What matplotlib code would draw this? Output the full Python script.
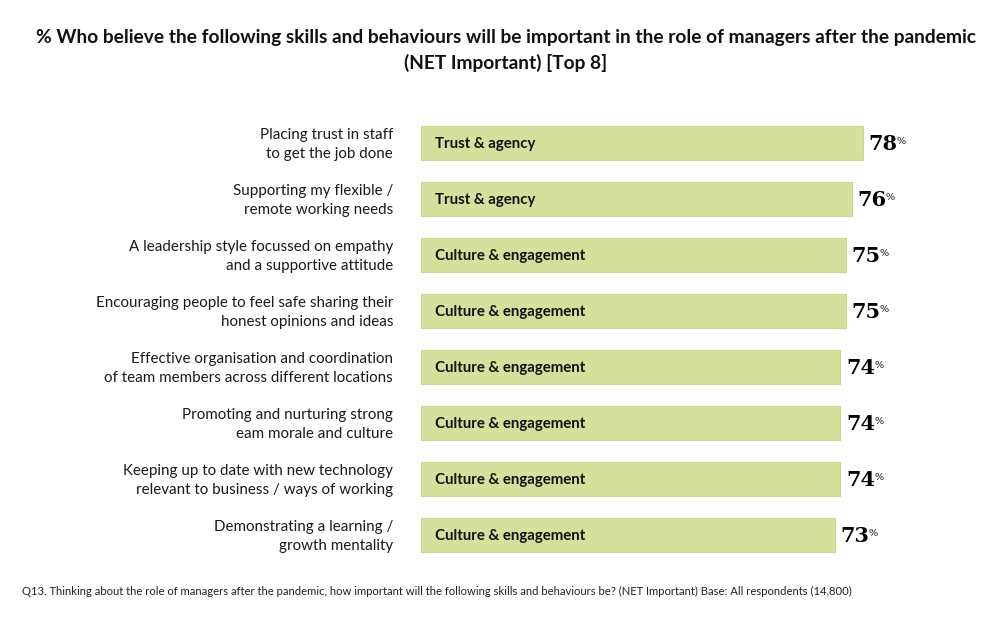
import matplotlib
matplotlib.use("Agg")
import matplotlib.pyplot as plt

# data
labels = [
    "Placing trust in staff\nto get the job done",
    "Supporting my flexible /\nremote working needs",
    "A leadership style focussed on empathy\nand a supportive attitude",
    "Encouraging people to feel safe sharing their\nhonest opinions and ideas",
    "Effective organisation and coordination\nof team members across different locations",
    "Promoting and nurturing strong\neam morale and culture",
    "Keeping up to date with new technology\nrelevant to business / ways of working",
    "Demonstrating a learning /\ngrowth mentality",
]
groups = ["Trust & agency", "Trust & agency", "Culture & engagement", "Culture & engagement",
          "Culture & engagement", "Culture & engagement", "Culture & engagement", "Culture & engagement"]
values = [78, 76, 75, 75, 74, 74, 74, 73]

BAR_COLOR = "#d5e09c"
EDGE_COLOR = "#c9d78a"

plt.rcParams["font.family"] = ["Lato", "DejaVu Sans"]

fig = plt.figure(figsize=(10.07, 6.23), dpi=100)
ax = fig.add_axes([421 / 1007, 1 - 563 / 623, 566.7 / 1007, 448 / 623])

y = list(range(len(values)))
ax.barh(y, values, height=0.6, color=BAR_COLOR, edgecolor=EDGE_COLOR, linewidth=0.8)
ax.set_xlim(0, 100)
ax.set_ylim(len(values) - 0.5, -0.5)
ax.axis("off")

for i, (lab, grp, v) in enumerate(zip(labels, groups, values)):
    # category label on the left
    ax.annotate(lab, xy=(0, i), xytext=(-20, -1), textcoords="offset points",
                ha="right", va="center", fontsize=10.9, color="#1a1a1a",
                linespacing=1.45)
    # group label inside bar
    ax.annotate(grp, xy=(0, i), xytext=(10, -1), textcoords="offset points",
                ha="left", va="center", fontsize=10.8, fontweight="bold", color="#111111")

fig.canvas.draw()
renderer = fig.canvas.get_renderer()
W, H = fig.get_size_inches() * fig.dpi
for i, v in enumerate(values):
    t = ax.annotate(str(v), xy=(v, i), xytext=(4, -1), textcoords="offset points",
                    ha="left", va="center", fontsize=15, fontweight="bold",
                    family="DejaVu Serif", color="black")
    bb = t.get_window_extent(renderer)
    fig.text((bb.x1 - 1) / W, (bb.y1 - 3) / H,
             "%", ha="left", va="top", fontsize=7, family="DejaVu Serif", color="black")

fig.text(0.502, 1 - 38 / 623,
         "% Who believe the following skills and behaviours will be important in the role of managers after the pandemic",
         ha="center", va="center", fontsize=13.8, fontweight="bold", color="#111111")
fig.text(0.502, 1 - 63 / 623, "(NET Important) [Top 8]",
         ha="center", va="center", fontsize=13.8, fontweight="bold", color="#111111")

fig.text(22 / 1007, 1 - 591 / 623,
         "Q13. Thinking about the role of managers after the pandemic, how important will the following skills and behaviours be? (NET Important) Base: All respondents (14,800)",
         ha="left", va="center", fontsize=8.1, color="#222222")

fig.savefig("out.png", dpi=100)
